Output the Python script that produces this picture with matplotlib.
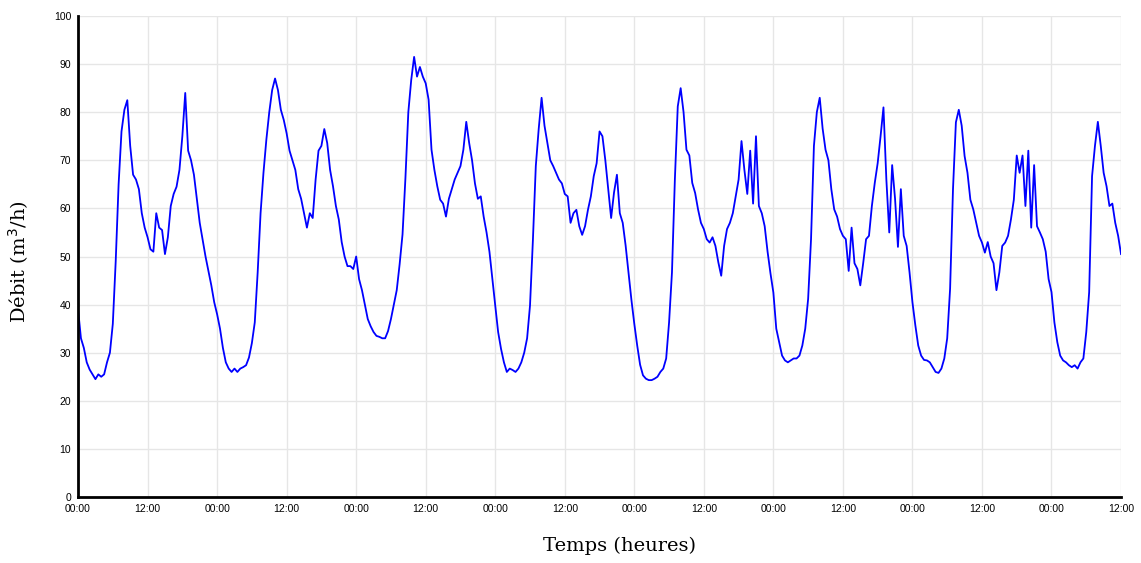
import numpy as np
import matplotlib
matplotlib.use("Agg")
import matplotlib.pyplot as plt

# debit, un point toutes les 30 min (0h -> 180h)
debit = [
    39, 33, 31, 28, 26.5, 25.5, 24.5, 25.5, 25, 25.5,
    28, 30, 36, 49, 65, 76, 80.5, 82.5, 73, 67,
    66, 64, 59, 56, 54, 51.5, 51, 59, 56, 55.5,
    50.5, 54, 60.5, 63, 64.5, 68, 75, 84, 72, 70,
    67, 62, 57, 53.5, 50, 47, 44, 40.5, 38, 35,
    31, 28, 26.7, 26, 26.7, 26, 26.7, 27, 27.4, 29,
    32, 36.3, 46.7, 59, 67.4, 74.3, 80, 84.6, 87, 84.6,
    80.5, 78.4, 75.6, 72, 70, 68, 64, 62, 59, 56,
    59, 58, 66, 72, 73, 76.5, 73.6, 68, 64.6, 60.5,
    57.7, 53, 50, 48, 48, 47.4, 50, 45.3, 43, 40,
    37, 35.5, 34.3, 33.5, 33.3, 33, 33, 34.5, 37, 40,
    43, 48.4, 54.6, 66.3, 80, 86.7, 91.5, 87.4, 89.4, 87.4,
    86, 82.6, 72.2, 68, 64.6, 61.8, 61, 58.3, 62, 64,
    66, 67.4, 68.8, 72.2, 78, 73.6, 70, 65.2, 62, 62.5,
    58.3, 55, 51, 45.3, 39.8, 34.3, 30.8, 28, 26, 26.7,
    26.4, 26, 26.7, 28, 30, 33, 39.8, 53.4, 68.8, 76.5,
    83, 77.2, 73.6, 70, 68.8, 67.4, 66, 65.2, 63, 62.5,
    57, 59, 59.7, 56.3, 54.5, 56.3, 59.7, 62.5, 66.7, 69.4,
    76, 75, 70, 64, 58, 63.3, 67, 59, 57, 52.3,
    46.7, 41, 36, 31.5, 27.5, 25.3, 24.6, 24.3, 24.3, 24.6,
    25, 26, 26.7, 28.8, 36.3, 46.7, 66, 81.2, 85, 80,
    72.2, 71, 65.3, 63.2, 59.8, 57, 55.7, 53.6, 52.9, 54,
    52.2, 48.8, 46, 52.2, 55.7, 57, 59, 62.5, 66, 74,
    68, 63, 72, 61, 75, 60.5, 59, 56.3, 51, 46.5,
    42.5, 35, 32.2, 29.4, 28.4, 28, 28.4, 28.8, 28.8, 29.4,
    31.5, 35, 41.2, 53.6, 73, 80, 83, 76.6, 72.2, 70,
    64, 59.8, 58.3, 55.7, 54.3, 53.6, 47, 56, 48.6, 47.4,
    44, 48.6, 53.6, 54.3, 60.5, 65.3, 69.4, 75, 81, 66,
    55, 69, 62, 52, 64, 54.3, 52.2, 46.7, 40.5, 35.7,
    31.5, 29.4, 28.5, 28.4, 28, 27, 26, 25.8, 26.7, 28.8,
    33, 43.3, 64, 77.9, 80.5, 77.2, 70.9, 67.4, 61.8, 59.8,
    57, 54.3, 52.9, 50.8, 53, 50, 48.6, 43, 46.7, 52.2,
    52.9, 54.3, 57.7, 61.8, 71, 67.4, 71, 60.5, 72, 56,
    69, 56.3, 55, 53.6, 51, 45.3, 42.6, 36.3, 32.2, 29.4,
    28.4, 28, 27.4, 27, 27.4, 26.7, 28, 28.8, 34.3, 42.6,
    66.7, 73, 78, 73, 67.4, 64.6, 60.5, 61, 57, 54.3,
    50.5,
]
heures = np.arange(len(debit)) * 0.5

tick_pos = list(range(0, 181, 12))
tick_labels = ["00:00", "12:00"] * 8

fig = plt.figure(figsize=(11.41, 5.63), dpi=100)
ax = fig.add_axes([0.0684, 0.1172, 0.9141, 0.8544])

ax.plot(heures, debit, color="#0000ff", lw=1.3)

ax.set_xlim(0, 180)
ax.set_ylim(0, 100)
ax.set_xticks(tick_pos)
ax.set_xticklabels(tick_labels)
ax.set_yticks(range(0, 101, 10))
ax.tick_params(length=0, labelsize=7.5, pad=5)
for lab in ax.get_xticklabels() + ax.get_yticklabels():
    lab.set_family("Liberation Sans")

ax.grid(True, color="#e6e6e6", lw=1)
ax.set_axisbelow(True)
ax.spines["top"].set_visible(False)
ax.spines["right"].set_visible(False)
ax.spines["left"].set_linewidth(2)
ax.spines["bottom"].set_linewidth(2)

ax.set_xlabel("Temps (heures)", family="DejaVu Serif", fontsize=14)
ax.set_ylabel("Débit (m$^3$/h)", family="DejaVu Serif", fontsize=14)
ax.xaxis.set_label_coords(0.519, -0.083)
ax.yaxis.set_label_coords(-0.045, 0.489)

fig.savefig("out.png", dpi=100)
